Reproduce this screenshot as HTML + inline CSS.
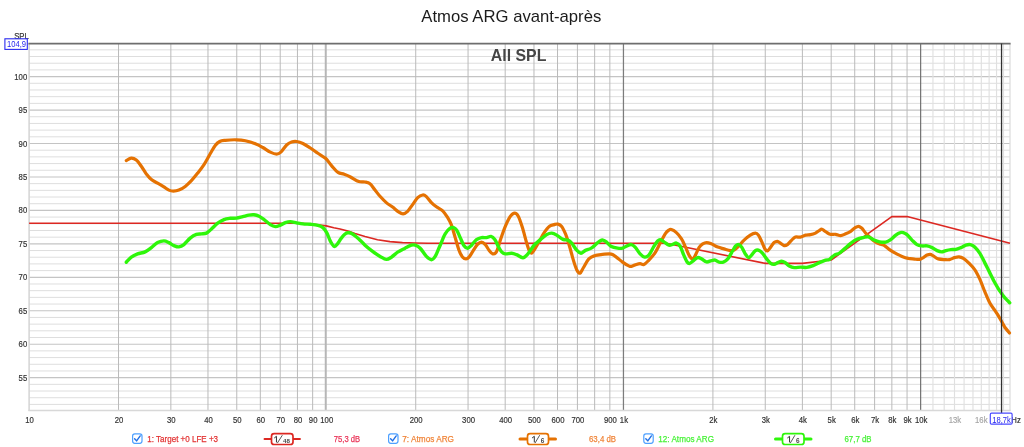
<!DOCTYPE html>
<html><head><meta charset="utf-8"><title>Atmos ARG avant-après</title>
<style>
html,body{margin:0;padding:0;background:#fff;}
body{width:1024px;height:447px;overflow:hidden;font-family:"Liberation Sans",sans-serif;}
svg{display:block;will-change:transform;opacity:0.999;}
svg text{font-family:"Liberation Sans",sans-serif;}
</style></head><body>
<svg width="1024" height="447" viewBox="0 0 1024 447">
<rect width="1024" height="447" fill="#ffffff"/>
<g>
<line x1="29.1" x2="1010" y1="404.41" y2="404.41" stroke="#dedede" stroke-width="1.0"/>
<line x1="29.1" x2="1010" y1="397.72" y2="397.72" stroke="#dedede" stroke-width="1.0"/>
<line x1="29.1" x2="1010" y1="391.03" y2="391.03" stroke="#dedede" stroke-width="1.0"/>
<line x1="29.1" x2="1010" y1="384.34" y2="384.34" stroke="#dedede" stroke-width="1.0"/>
<line x1="29.1" x2="1010" y1="377.65" y2="377.65" stroke="#c4c4c4" stroke-width="1.15"/>
<line x1="29.1" x2="1010" y1="370.96" y2="370.96" stroke="#dedede" stroke-width="1.0"/>
<line x1="29.1" x2="1010" y1="364.27" y2="364.27" stroke="#dedede" stroke-width="1.0"/>
<line x1="29.1" x2="1010" y1="357.58" y2="357.58" stroke="#dedede" stroke-width="1.0"/>
<line x1="29.1" x2="1010" y1="350.89" y2="350.89" stroke="#dedede" stroke-width="1.0"/>
<line x1="29.1" x2="1010" y1="344.20" y2="344.20" stroke="#c4c4c4" stroke-width="1.15"/>
<line x1="29.1" x2="1010" y1="337.51" y2="337.51" stroke="#dedede" stroke-width="1.0"/>
<line x1="29.1" x2="1010" y1="330.82" y2="330.82" stroke="#dedede" stroke-width="1.0"/>
<line x1="29.1" x2="1010" y1="324.13" y2="324.13" stroke="#dedede" stroke-width="1.0"/>
<line x1="29.1" x2="1010" y1="317.44" y2="317.44" stroke="#dedede" stroke-width="1.0"/>
<line x1="29.1" x2="1010" y1="310.75" y2="310.75" stroke="#c4c4c4" stroke-width="1.15"/>
<line x1="29.1" x2="1010" y1="304.06" y2="304.06" stroke="#dedede" stroke-width="1.0"/>
<line x1="29.1" x2="1010" y1="297.37" y2="297.37" stroke="#dedede" stroke-width="1.0"/>
<line x1="29.1" x2="1010" y1="290.68" y2="290.68" stroke="#dedede" stroke-width="1.0"/>
<line x1="29.1" x2="1010" y1="283.99" y2="283.99" stroke="#dedede" stroke-width="1.0"/>
<line x1="29.1" x2="1010" y1="277.30" y2="277.30" stroke="#c4c4c4" stroke-width="1.15"/>
<line x1="29.1" x2="1010" y1="270.61" y2="270.61" stroke="#dedede" stroke-width="1.0"/>
<line x1="29.1" x2="1010" y1="263.92" y2="263.92" stroke="#dedede" stroke-width="1.0"/>
<line x1="29.1" x2="1010" y1="257.23" y2="257.23" stroke="#dedede" stroke-width="1.0"/>
<line x1="29.1" x2="1010" y1="250.54" y2="250.54" stroke="#dedede" stroke-width="1.0"/>
<line x1="29.1" x2="1010" y1="243.85" y2="243.85" stroke="#c4c4c4" stroke-width="1.15"/>
<line x1="29.1" x2="1010" y1="237.16" y2="237.16" stroke="#dedede" stroke-width="1.0"/>
<line x1="29.1" x2="1010" y1="230.47" y2="230.47" stroke="#dedede" stroke-width="1.0"/>
<line x1="29.1" x2="1010" y1="223.78" y2="223.78" stroke="#dedede" stroke-width="1.0"/>
<line x1="29.1" x2="1010" y1="217.09" y2="217.09" stroke="#dedede" stroke-width="1.0"/>
<line x1="29.1" x2="1010" y1="210.40" y2="210.40" stroke="#c4c4c4" stroke-width="1.15"/>
<line x1="29.1" x2="1010" y1="203.71" y2="203.71" stroke="#dedede" stroke-width="1.0"/>
<line x1="29.1" x2="1010" y1="197.02" y2="197.02" stroke="#dedede" stroke-width="1.0"/>
<line x1="29.1" x2="1010" y1="190.33" y2="190.33" stroke="#dedede" stroke-width="1.0"/>
<line x1="29.1" x2="1010" y1="183.64" y2="183.64" stroke="#dedede" stroke-width="1.0"/>
<line x1="29.1" x2="1010" y1="176.95" y2="176.95" stroke="#c4c4c4" stroke-width="1.15"/>
<line x1="29.1" x2="1010" y1="170.26" y2="170.26" stroke="#dedede" stroke-width="1.0"/>
<line x1="29.1" x2="1010" y1="163.57" y2="163.57" stroke="#dedede" stroke-width="1.0"/>
<line x1="29.1" x2="1010" y1="156.88" y2="156.88" stroke="#dedede" stroke-width="1.0"/>
<line x1="29.1" x2="1010" y1="150.19" y2="150.19" stroke="#dedede" stroke-width="1.0"/>
<line x1="29.1" x2="1010" y1="143.50" y2="143.50" stroke="#c4c4c4" stroke-width="1.15"/>
<line x1="29.1" x2="1010" y1="136.81" y2="136.81" stroke="#dedede" stroke-width="1.0"/>
<line x1="29.1" x2="1010" y1="130.12" y2="130.12" stroke="#dedede" stroke-width="1.0"/>
<line x1="29.1" x2="1010" y1="123.43" y2="123.43" stroke="#dedede" stroke-width="1.0"/>
<line x1="29.1" x2="1010" y1="116.74" y2="116.74" stroke="#dedede" stroke-width="1.0"/>
<line x1="29.1" x2="1010" y1="110.05" y2="110.05" stroke="#c4c4c4" stroke-width="1.15"/>
<line x1="29.1" x2="1010" y1="103.36" y2="103.36" stroke="#dedede" stroke-width="1.0"/>
<line x1="29.1" x2="1010" y1="96.67" y2="96.67" stroke="#dedede" stroke-width="1.0"/>
<line x1="29.1" x2="1010" y1="89.98" y2="89.98" stroke="#dedede" stroke-width="1.0"/>
<line x1="29.1" x2="1010" y1="83.29" y2="83.29" stroke="#dedede" stroke-width="1.0"/>
<line x1="29.1" x2="1010" y1="76.60" y2="76.60" stroke="#c4c4c4" stroke-width="1.15"/>
<line x1="29.1" x2="1010" y1="69.91" y2="69.91" stroke="#dedede" stroke-width="1.0"/>
<line x1="29.1" x2="1010" y1="63.22" y2="63.22" stroke="#dedede" stroke-width="1.0"/>
<line x1="29.1" x2="1010" y1="56.53" y2="56.53" stroke="#dedede" stroke-width="1.0"/>
<line x1="29.1" x2="1010" y1="49.84" y2="49.84" stroke="#dedede" stroke-width="1.0"/>
<line x1="118.52" x2="118.52" y1="43.6" y2="410.9" stroke="#bababa" stroke-width="1.0"/>
<line x1="170.85" x2="170.85" y1="43.6" y2="410.9" stroke="#bababa" stroke-width="1.0"/>
<line x1="207.98" x2="207.98" y1="43.6" y2="410.9" stroke="#bababa" stroke-width="1.0"/>
<line x1="236.78" x2="236.78" y1="43.6" y2="410.9" stroke="#bababa" stroke-width="1.0"/>
<line x1="260.32" x2="260.32" y1="43.6" y2="410.9" stroke="#bababa" stroke-width="1.0"/>
<line x1="280.21" x2="280.21" y1="43.6" y2="410.9" stroke="#bababa" stroke-width="1.0"/>
<line x1="297.45" x2="297.45" y1="43.6" y2="410.9" stroke="#bababa" stroke-width="1.0"/>
<line x1="312.65" x2="312.65" y1="43.6" y2="410.9" stroke="#bababa" stroke-width="1.0"/>
<line x1="415.72" x2="415.72" y1="43.6" y2="410.9" stroke="#bababa" stroke-width="1.0"/>
<line x1="468.05" x2="468.05" y1="43.6" y2="410.9" stroke="#bababa" stroke-width="1.0"/>
<line x1="505.18" x2="505.18" y1="43.6" y2="410.9" stroke="#bababa" stroke-width="1.0"/>
<line x1="533.98" x2="533.98" y1="43.6" y2="410.9" stroke="#bababa" stroke-width="1.0"/>
<line x1="557.52" x2="557.52" y1="43.6" y2="410.9" stroke="#bababa" stroke-width="1.0"/>
<line x1="577.41" x2="577.41" y1="43.6" y2="410.9" stroke="#bababa" stroke-width="1.0"/>
<line x1="594.65" x2="594.65" y1="43.6" y2="410.9" stroke="#bababa" stroke-width="1.0"/>
<line x1="609.85" x2="609.85" y1="43.6" y2="410.9" stroke="#bababa" stroke-width="1.0"/>
<line x1="712.92" x2="712.92" y1="43.6" y2="410.9" stroke="#bababa" stroke-width="1.0"/>
<line x1="765.25" x2="765.25" y1="43.6" y2="410.9" stroke="#bababa" stroke-width="1.0"/>
<line x1="802.38" x2="802.38" y1="43.6" y2="410.9" stroke="#bababa" stroke-width="1.0"/>
<line x1="831.18" x2="831.18" y1="43.6" y2="410.9" stroke="#bababa" stroke-width="1.0"/>
<line x1="854.72" x2="854.72" y1="43.6" y2="410.9" stroke="#bababa" stroke-width="1.0"/>
<line x1="874.61" x2="874.61" y1="43.6" y2="410.9" stroke="#bababa" stroke-width="1.0"/>
<line x1="891.85" x2="891.85" y1="43.6" y2="410.9" stroke="#bababa" stroke-width="1.0"/>
<line x1="907.05" x2="907.05" y1="43.6" y2="410.9" stroke="#bababa" stroke-width="1.0"/>
<line x1="932.95" x2="932.95" y1="43.6" y2="410.9" stroke="#e0e0e0" stroke-width="1.15"/>
<line x1="944.18" x2="944.18" y1="43.6" y2="410.9" stroke="#e0e0e0" stroke-width="1.15"/>
<line x1="954.51" x2="954.51" y1="43.6" y2="410.9" stroke="#e0e0e0" stroke-width="1.15"/>
<line x1="964.08" x2="964.08" y1="43.6" y2="410.9" stroke="#e0e0e0" stroke-width="1.15"/>
<line x1="972.98" x2="972.98" y1="43.6" y2="410.9" stroke="#e0e0e0" stroke-width="1.15"/>
<line x1="981.31" x2="981.31" y1="43.6" y2="410.9" stroke="#e0e0e0" stroke-width="1.15"/>
<line x1="989.14" x2="989.14" y1="43.6" y2="410.9" stroke="#e0e0e0" stroke-width="1.15"/>
<line x1="996.52" x2="996.52" y1="43.6" y2="410.9" stroke="#e0e0e0" stroke-width="1.15"/>
<line x1="1003.50" x2="1003.50" y1="43.6" y2="410.9" stroke="#e0e0e0" stroke-width="1.15"/>
<line x1="325.75" x2="325.75" y1="43.6" y2="410.9" stroke="#b6b6b6" stroke-width="2"/>
<line x1="623.45" x2="623.45" y1="43.6" y2="410.9" stroke="#7c7c7c" stroke-width="1.25"/>
<line x1="920.65" x2="920.65" y1="43.6" y2="410.9" stroke="#6c6c6c" stroke-width="1.15"/>
<line x1="29.1" x2="29.1" y1="43.6" y2="410.9" stroke="#d4d4d4" stroke-width="1.5"/>
<line x1="1010" x2="1010" y1="43.6" y2="410.9" stroke="#dedede" stroke-width="1.3"/>
<line x1="28.400000000000002" x2="1010.6" y1="410.5" y2="410.5" stroke="#d8d8d8" stroke-width="1.4"/>
<line x1="28.400000000000002" x2="1010.6" y1="43.6" y2="43.6" stroke="#6e6e6e" stroke-width="1.7"/>
</g>
<g>
<path d="M29.1,223.3 L300.0,223.3 L310.0,223.9 L320.0,225.0 L326.2,225.9 L333.8,227.7 L340.0,229.0 L348.8,231.3 L355.0,233.5 L365.0,236.5 L377.5,239.8 L390.0,241.6 L402.5,242.6 L415.0,243.0 L428.0,243.3 L666.0,243.3 L765.3,263.4 L802.4,263.4 L831.2,260.0 L891.8,216.6 L907.1,216.6 L1010.0,243.3" fill="none" stroke="#dc2822" stroke-width="1.6" stroke-linejoin="round"/>
<path d="M126.3,160.6 C127.1,160.2 129.6,158.2 131.3,158.1 C133.0,158.0 134.6,158.7 136.3,160.1 C138.0,161.5 139.6,164.0 141.3,166.3 C143.0,168.6 144.6,171.7 146.3,173.9 C148.0,176.1 149.5,178.1 151.4,179.6 C153.3,181.1 155.5,181.9 157.6,183.1 C159.7,184.3 162.0,185.7 163.9,186.9 C165.8,188.1 167.3,189.4 168.9,190.1 C170.5,190.8 171.7,191.1 173.4,191.1 C175.1,191.1 176.9,190.9 178.9,190.1 C180.9,189.3 183.1,188.0 185.2,186.4 C187.3,184.8 189.3,182.8 191.4,180.6 C193.5,178.4 195.6,175.8 197.7,173.1 C199.8,170.4 201.9,167.8 204.0,164.6 C206.1,161.4 208.3,157.0 210.2,153.8 C212.1,150.6 213.6,147.6 215.2,145.5 C216.8,143.4 218.0,142.4 219.7,141.5 C221.4,140.6 222.5,140.6 225.3,140.3 C228.1,140.0 233.2,139.7 236.5,139.8 C239.8,139.9 242.2,140.1 245.3,140.8 C248.4,141.5 252.4,142.7 255.3,143.8 C258.2,144.9 260.3,146.1 262.8,147.5 C265.3,148.9 268.0,151.0 270.3,152.1 C272.6,153.2 274.8,154.1 276.6,154.1 C278.4,154.1 279.2,153.6 280.9,152.1 C282.6,150.6 284.8,146.7 286.6,145.0 C288.4,143.3 289.9,142.6 291.6,142.0 C293.3,141.4 294.7,141.2 296.6,141.5 C298.5,141.8 300.6,142.4 302.9,143.5 C305.2,144.6 307.9,146.4 310.4,148.0 C312.9,149.6 315.4,151.6 317.9,153.3 C320.4,155.0 323.2,156.2 325.5,158.3 C327.8,160.4 329.6,163.5 331.7,165.8 C333.8,168.2 335.9,171.0 338.0,172.4 C340.1,173.8 342.1,173.5 344.2,174.3 C346.3,175.1 348.1,175.8 350.5,177.0 C352.9,178.2 356.4,180.7 358.8,181.5 C361.2,182.3 363.1,181.6 365.0,182.0 C366.9,182.4 368.3,182.5 370.0,183.8 C371.7,185.1 373.3,187.9 375.0,190.0 C376.7,192.1 378.1,194.2 380.0,196.3 C381.9,198.4 384.2,200.8 386.3,202.6 C388.4,204.4 390.5,205.5 392.6,207.1 C394.7,208.7 397.1,211.0 398.9,212.1 C400.6,213.2 401.7,213.9 403.1,213.8 C404.6,213.7 406.0,212.8 407.6,211.3 C409.2,209.8 410.9,206.9 412.6,204.6 C414.3,202.3 416.0,199.2 417.7,197.6 C419.4,196.0 421.2,195.2 422.7,195.0 C424.1,194.8 424.9,195.3 426.4,196.6 C427.8,197.9 429.7,200.9 431.4,202.6 C433.1,204.3 434.5,205.4 436.4,206.8 C438.3,208.2 440.8,209.0 442.7,210.8 C444.6,212.6 446.2,215.2 447.7,217.6 C449.2,220.0 450.2,221.8 451.5,225.1 C452.8,228.4 453.9,233.4 455.2,237.6 C456.4,241.8 457.8,246.9 459.0,250.2 C460.2,253.5 461.5,255.8 462.7,257.2 C463.9,258.6 464.9,258.9 466.0,258.9 C467.1,258.9 467.9,258.4 469.0,257.2 C470.1,255.9 471.4,253.5 472.8,251.4 C474.2,249.3 475.9,246.2 477.3,244.7 C478.8,243.2 480.2,242.2 481.5,242.2 C482.8,242.2 484.1,243.4 485.3,244.7 C486.6,246.0 487.8,248.7 489.0,250.2 C490.2,251.7 491.5,253.7 492.8,253.9 C494.1,254.1 495.4,253.7 496.6,251.4 C497.9,249.1 498.9,244.4 500.3,240.2 C501.8,236.0 503.6,230.4 505.3,226.4 C507.0,222.4 508.8,218.6 510.3,216.4 C511.9,214.2 513.2,213.1 514.6,213.1 C516.0,213.1 517.1,214.0 518.4,216.4 C519.7,218.8 521.0,223.2 522.4,227.6 C523.8,232.0 525.4,238.7 526.6,242.7 C527.8,246.7 528.8,249.7 529.6,251.4 C530.4,253.2 530.9,253.4 531.6,253.2 C532.4,253.0 532.8,252.2 534.1,250.2 C535.4,248.2 537.5,244.3 539.2,241.4 C540.9,238.5 542.5,235.1 544.2,232.6 C545.9,230.1 547.5,227.7 549.2,226.4 C550.9,225.1 552.8,225.0 554.2,224.6 C555.7,224.2 556.6,223.8 557.9,224.1 C559.1,224.4 560.4,224.8 561.7,226.4 C563.0,228.0 564.2,230.8 565.5,233.9 C566.8,237.0 568.0,241.0 569.2,245.2 C570.5,249.4 571.8,254.8 573.0,258.9 C574.2,263.0 575.5,267.3 576.7,269.7 C577.9,272.1 578.9,273.6 580.0,273.2 C581.1,272.8 582.0,269.9 583.5,267.5 C585.0,265.1 586.9,260.9 588.8,258.9 C590.7,256.9 592.7,256.3 595.0,255.6 C597.3,254.8 599.8,254.7 602.5,254.4 C605.2,254.2 609.0,253.6 611.3,254.1 C613.6,254.6 614.4,255.8 616.3,257.1 C618.2,258.4 620.5,260.6 622.6,262.1 C624.7,263.6 627.3,265.2 628.8,265.9 C630.3,266.6 630.1,266.6 631.4,266.4 C632.7,266.1 634.9,264.9 636.4,264.4 C637.9,263.9 638.9,263.6 640.1,263.6 C641.4,263.6 642.4,265.2 643.9,264.6 C645.4,264.0 647.0,262.1 648.9,260.1 C650.8,258.1 653.3,255.4 655.2,252.6 C657.1,249.8 658.5,246.2 660.2,243.1 C661.9,240.0 663.8,236.0 665.2,233.8 C666.7,231.6 667.9,230.8 668.9,230.1 C669.9,229.4 670.1,229.2 671.4,229.6 C672.6,230.0 674.7,231.1 676.4,232.6 C678.1,234.1 680.0,236.5 681.5,238.8 C683.0,241.1 684.0,243.7 685.2,246.4 C686.5,249.1 687.8,253.0 689.0,255.1 C690.2,257.2 691.2,258.8 692.2,258.9 C693.2,259.0 694.1,257.5 695.2,255.6 C696.3,253.7 697.8,249.5 699.0,247.6 C700.2,245.7 701.5,244.7 702.7,243.9 C704.0,243.1 705.0,242.6 706.5,242.6 C708.0,242.6 709.6,243.2 711.5,243.9 C713.4,244.7 715.7,246.3 717.8,247.1 C719.9,247.9 721.9,248.3 724.0,248.9 C726.1,249.5 728.6,250.4 730.3,250.6 C732.0,250.8 732.6,250.9 734.1,250.1 C735.6,249.3 737.4,247.3 739.1,245.6 C740.8,243.9 742.2,241.8 744.1,240.1 C746.0,238.3 748.4,236.3 750.3,235.1 C752.2,233.9 754.0,233.1 755.4,233.1 C756.8,233.1 757.4,233.7 758.4,235.1 C759.4,236.5 760.5,239.1 761.6,241.4 C762.7,243.7 763.9,247.3 764.9,248.9 C765.9,250.5 766.5,251.1 767.4,250.9 C768.3,250.7 769.3,249.0 770.4,247.6 C771.5,246.2 772.9,243.6 774.1,242.6 C775.3,241.6 776.4,241.3 777.4,241.4 C778.4,241.5 779.3,242.4 780.4,243.1 C781.5,243.8 783.0,245.3 784.2,245.6 C785.4,245.8 786.1,245.5 787.4,244.6 C788.6,243.7 790.4,241.3 791.7,240.1 C793.0,238.8 794.0,237.6 795.4,237.1 C796.8,236.6 798.7,237.4 800.4,237.1 C802.1,236.8 803.8,235.5 805.5,235.1 C807.2,234.7 808.8,234.9 810.5,234.6 C812.2,234.3 814.0,233.8 815.5,233.1 C817.0,232.4 818.1,231.2 819.2,230.6 C820.3,229.9 820.9,229.0 822.0,229.2 C823.1,229.4 824.2,230.8 825.6,231.6 C827.0,232.4 828.4,233.9 830.1,234.3 C831.8,234.8 833.9,234.1 835.6,234.3 C837.4,234.5 838.9,235.7 840.6,235.6 C842.3,235.5 844.0,234.5 845.7,233.8 C847.4,233.1 849.1,232.3 850.7,231.3 C852.3,230.3 853.9,228.4 855.2,227.6 C856.5,226.8 857.6,226.2 858.7,226.3 C859.8,226.4 860.7,227.2 861.9,228.3 C863.1,229.4 864.2,231.5 865.7,233.1 C867.2,234.7 869.0,236.6 870.7,238.1 C872.4,239.6 874.0,241.1 875.7,242.1 C877.4,243.1 879.2,243.7 880.7,244.3 C882.2,244.9 883.0,244.7 884.5,245.6 C886.0,246.5 887.6,248.3 889.5,249.6 C891.4,250.9 893.7,252.3 895.8,253.4 C897.9,254.5 899.9,255.6 902.0,256.4 C904.1,257.2 906.2,257.9 908.3,258.4 C910.4,258.8 912.6,258.9 914.5,259.1 C916.4,259.3 918.1,259.6 919.6,259.4 C921.1,259.1 922.0,258.3 923.3,257.6 C924.5,256.9 925.9,255.6 927.1,255.1 C928.3,254.6 929.3,254.3 930.3,254.4 C931.3,254.5 932.0,255.2 933.3,255.9 C934.6,256.6 936.4,258.3 938.3,258.9 C940.2,259.5 942.7,259.5 944.6,259.6 C946.5,259.7 947.9,259.9 949.6,259.6 C951.3,259.3 953.1,258.1 954.6,257.6 C956.1,257.2 957.4,256.8 958.9,256.9 C960.4,257.0 961.8,257.4 963.4,258.4 C965.0,259.3 966.5,260.7 968.4,262.6 C970.3,264.5 972.8,266.9 974.7,269.6 C976.6,272.3 978.0,275.3 979.7,278.9 C981.4,282.5 983.0,287.4 984.7,291.4 C986.4,295.4 988.0,299.5 989.7,302.7 C991.4,305.9 993.6,308.5 995.0,310.6 C996.4,312.7 996.9,313.4 998.0,315.2 C999.1,317.0 1000.3,319.2 1001.5,321.3 C1002.7,323.4 1003.7,325.6 1005.0,327.5 C1006.3,329.4 1008.8,332.1 1009.5,333.0" fill="none" stroke="#e57202" stroke-width="3.2" stroke-linecap="round" stroke-linejoin="round"/>
<path d="M126.3,262.2 C127.1,261.4 129.4,258.6 131.3,257.2 C133.2,255.8 135.3,254.8 137.6,253.9 C139.9,253.0 142.8,253.0 145.1,251.9 C147.4,250.8 149.3,249.2 151.4,247.6 C153.5,246.0 155.5,243.7 157.6,242.6 C159.7,241.5 162.0,240.9 163.9,240.9 C165.8,240.9 167.2,241.8 168.9,242.6 C170.6,243.4 172.2,244.9 173.9,245.6 C175.6,246.3 177.2,247.1 178.9,246.9 C180.6,246.7 182.0,246.1 183.9,244.6 C185.8,243.1 188.1,239.8 190.2,238.1 C192.3,236.4 194.5,235.1 196.4,234.4 C198.3,233.7 199.8,234.1 201.5,233.9 C203.2,233.7 204.8,233.9 206.5,233.1 C208.2,232.3 209.6,230.6 211.5,228.9 C213.4,227.2 215.6,224.7 217.7,223.1 C219.8,221.5 221.9,220.4 224.0,219.6 C226.1,218.8 228.2,218.6 230.3,218.3 C232.4,218.1 234.4,218.4 236.5,218.1 C238.6,217.8 240.7,217.1 242.8,216.6 C244.9,216.1 247.1,215.4 249.0,215.1 C250.9,214.8 252.4,214.6 254.1,214.8 C255.8,215.0 257.4,215.5 259.1,216.3 C260.8,217.1 262.2,218.2 264.1,219.6 C266.0,221.0 268.4,223.4 270.3,224.6 C272.2,225.8 273.7,226.5 275.4,226.6 C277.1,226.7 278.7,225.8 280.4,225.1 C282.1,224.4 283.7,223.2 285.4,222.6 C287.1,222.0 288.5,221.6 290.4,221.6 C292.3,221.6 294.5,222.4 296.6,222.8 C298.7,223.2 300.6,223.7 302.9,223.9 C305.2,224.2 307.9,224.1 310.4,224.3 C312.9,224.6 315.8,224.9 317.9,225.4 C320.0,225.9 321.4,226.4 322.9,227.6 C324.4,228.8 325.4,230.3 326.7,232.6 C328.0,234.9 329.2,239.1 330.5,241.4 C331.8,243.7 333.0,246.0 334.2,246.4 C335.4,246.8 336.4,245.2 337.5,243.9 C338.6,242.6 339.8,240.2 341.0,238.6 C342.2,237.0 343.3,235.5 344.5,234.5 C345.7,233.5 346.7,232.9 348.0,232.8 C349.3,232.7 350.7,232.9 352.5,233.9 C354.3,234.9 356.7,237.0 358.8,238.9 C360.9,240.8 362.7,243.1 365.0,245.2 C367.3,247.3 370.1,249.5 372.6,251.4 C375.1,253.3 377.8,255.1 380.1,256.4 C382.4,257.7 384.4,259.3 386.3,259.4 C388.2,259.5 389.5,258.4 391.4,257.2 C393.3,256.0 395.3,253.7 397.6,252.2 C399.9,250.7 402.8,249.4 405.1,248.2 C407.4,247.0 409.7,245.7 411.4,245.2 C413.1,244.7 413.7,244.7 415.2,245.2 C416.7,245.7 418.3,246.3 420.2,248.2 C422.1,250.1 424.5,254.5 426.4,256.4 C428.3,258.3 429.9,259.7 431.4,259.7 C432.9,259.7 433.7,258.8 435.2,256.4 C436.7,254.0 438.5,248.9 440.2,245.2 C441.9,241.4 443.5,236.7 445.2,233.9 C446.9,231.1 448.8,229.2 450.2,228.2 C451.6,227.1 452.6,227.3 453.7,227.6 C454.8,227.9 455.6,228.5 456.7,230.2 C457.8,231.9 459.0,235.0 460.2,237.6 C461.4,240.2 462.7,243.9 464.0,245.7 C465.3,247.5 466.6,248.3 467.8,248.2 C469.1,248.1 470.1,246.6 471.5,245.2 C472.9,243.8 474.8,240.9 476.5,239.6 C478.2,238.3 479.8,237.9 481.5,237.6 C483.2,237.3 484.9,237.8 486.5,237.6 C488.1,237.4 489.6,236.1 491.0,236.4 C492.4,236.7 493.6,237.9 494.8,239.6 C496.0,241.3 497.2,244.3 498.3,246.4 C499.4,248.5 500.4,250.7 501.6,251.9 C502.8,253.2 503.6,253.7 505.3,253.9 C507.0,254.1 509.7,253.1 511.6,253.2 C513.5,253.3 514.7,253.9 516.6,254.7 C518.5,255.4 521.0,257.8 522.9,257.7 C524.8,257.6 526.0,256.0 527.9,253.9 C529.8,251.8 532.0,247.6 534.1,245.2 C536.2,242.8 538.3,241.4 540.4,239.6 C542.5,237.8 544.8,235.7 546.7,234.6 C548.6,233.5 550.0,233.0 551.7,233.1 C553.4,233.2 554.8,234.0 556.7,235.1 C558.6,236.2 561.1,238.6 563.0,239.4 C564.9,240.2 566.5,239.6 568.0,240.2 C569.5,240.8 570.2,241.5 571.7,243.2 C573.2,244.9 575.2,248.5 576.7,250.2 C578.2,251.9 579.6,253.1 581.0,253.2 C582.4,253.3 583.3,251.4 585.0,250.6 C586.7,249.8 589.4,249.2 591.3,248.1 C593.2,247.0 594.8,245.1 596.3,243.9 C597.8,242.7 598.9,241.5 600.0,240.9 C601.1,240.3 602.0,239.9 603.0,240.1 C604.0,240.3 604.9,240.8 606.3,241.9 C607.7,243.0 609.4,245.4 611.3,246.4 C613.2,247.4 615.7,247.8 617.6,248.1 C619.5,248.4 620.9,248.5 622.6,248.1 C624.3,247.7 626.1,246.2 627.6,245.6 C629.1,245.0 630.1,244.3 631.4,244.6 C632.6,244.8 633.6,245.5 635.1,247.1 C636.6,248.7 638.5,252.2 640.1,253.9 C641.7,255.6 643.1,256.9 644.6,257.1 C646.1,257.3 647.4,256.9 648.9,255.1 C650.4,253.3 652.4,248.8 653.9,246.4 C655.4,244.0 656.7,242.0 657.7,240.9 C658.8,239.8 659.2,239.4 660.2,239.6 C661.2,239.8 662.5,241.0 663.9,241.9 C665.3,242.8 667.4,244.7 668.9,245.1 C670.4,245.5 671.5,244.7 672.7,244.4 C674.0,244.1 675.1,242.8 676.4,243.1 C677.6,243.4 678.9,244.3 680.2,246.4 C681.5,248.5 682.8,253.0 684.0,255.6 C685.2,258.2 686.2,260.8 687.2,262.1 C688.2,263.4 688.7,263.6 689.7,263.4 C690.7,263.2 691.9,261.9 693.2,260.9 C694.5,259.9 696.3,257.9 697.7,257.6 C699.1,257.3 700.0,258.2 701.5,258.9 C703.0,259.6 704.8,261.6 706.5,261.9 C708.2,262.2 710.0,260.9 711.5,260.6 C713.0,260.3 714.0,259.9 715.3,260.1 C716.5,260.4 717.7,261.8 719.0,262.1 C720.3,262.4 721.8,262.6 723.3,262.1 C724.8,261.6 726.4,260.5 727.8,258.9 C729.2,257.3 730.4,254.7 731.6,252.6 C732.9,250.5 734.2,247.8 735.3,246.4 C736.4,245.0 737.2,244.3 738.3,244.4 C739.3,244.5 740.4,245.5 741.6,247.1 C742.8,248.7 744.1,252.2 745.3,253.9 C746.5,255.7 747.5,257.4 748.6,257.6 C749.7,257.8 750.5,256.3 751.6,255.1 C752.7,253.9 754.3,251.4 755.4,250.6 C756.5,249.8 757.2,249.7 758.4,250.1 C759.6,250.5 761.0,251.6 762.4,253.1 C763.8,254.6 765.3,257.2 766.6,258.9 C767.9,260.6 769.1,262.2 770.4,263.1 C771.6,264.0 772.9,264.5 774.1,264.4 C775.4,264.3 776.6,263.1 777.9,262.6 C779.2,262.1 780.5,261.2 781.7,261.2 C783.0,261.2 784.1,262.0 785.4,262.8 C786.7,263.6 787.8,265.2 789.3,266.0 C790.8,266.8 792.4,267.4 794.3,267.6 C796.2,267.8 798.5,267.1 800.6,267.1 C802.7,267.1 804.7,267.6 806.8,267.4 C808.9,267.2 811.0,266.5 813.1,265.7 C815.2,264.9 817.3,263.5 819.4,262.6 C821.5,261.7 823.9,260.6 825.6,260.1 C827.3,259.6 827.9,260.2 829.4,259.4 C830.9,258.6 832.7,256.1 834.4,255.1 C836.1,254.1 837.7,254.1 839.4,253.1 C841.1,252.1 842.5,250.5 844.4,248.9 C846.3,247.3 848.6,244.9 850.7,243.3 C852.8,241.7 854.8,240.2 856.9,239.3 C859.0,238.4 861.3,238.0 863.2,237.6 C865.1,237.2 866.5,236.5 868.2,236.8 C869.9,237.1 871.3,238.8 873.2,239.6 C875.1,240.4 877.4,241.4 879.5,241.8 C881.6,242.2 883.8,242.5 885.7,242.1 C887.6,241.7 889.0,240.8 890.7,239.6 C892.4,238.4 894.2,236.3 895.8,235.1 C897.4,233.9 899.0,233.0 900.3,232.6 C901.5,232.2 902.2,232.3 903.3,232.6 C904.4,232.9 905.5,233.3 907.0,234.6 C908.5,235.8 910.3,238.4 912.0,240.1 C913.7,241.8 915.3,243.6 917.0,244.6 C918.7,245.6 920.4,245.7 922.1,245.9 C923.8,246.1 925.4,245.6 927.1,245.9 C928.8,246.2 930.4,246.8 932.1,247.6 C933.8,248.4 935.5,249.9 937.1,250.6 C938.7,251.3 940.1,251.9 941.6,251.9 C943.1,251.9 944.4,251.0 945.9,250.6 C947.4,250.2 949.2,249.8 950.9,249.6 C952.6,249.4 954.2,249.7 955.9,249.4 C957.6,249.1 959.2,248.3 960.9,247.6 C962.6,246.9 964.3,245.6 965.9,245.1 C967.5,244.6 968.9,244.3 970.4,244.6 C971.9,244.9 973.2,245.5 974.7,246.9 C976.2,248.3 978.0,250.5 979.7,253.1 C981.4,255.7 983.0,259.4 984.7,262.6 C986.4,265.9 988.0,269.3 989.7,272.6 C991.4,275.9 993.0,279.5 994.7,282.5 C996.4,285.5 998.0,288.3 999.7,290.8 C1001.4,293.3 1003.0,295.7 1004.7,297.7 C1006.4,299.7 1008.9,301.9 1009.7,302.8" fill="none" stroke="#2ef60a" stroke-width="3.4" stroke-linecap="round" stroke-linejoin="round"/>
<line x1="1001.5413254626475" x2="1001.5413254626475" y1="43.6" y2="412.9" stroke="#303030" stroke-width="1.3"/>
</g>
<g opacity="0.999">
<text x="421.30" y="21.80" font-size="17" fill="#1c1c1c" font-weight="normal" textLength="180.00" lengthAdjust="spacingAndGlyphs">Atmos ARG avant-après</text>
<text x="490.85" y="60.80" font-size="16.5" fill="#454545" font-weight="bold" textLength="55.50" lengthAdjust="spacingAndGlyphs">All SPL</text>
<text x="18.60" y="380.65" font-size="9.2" fill="#333" stroke="#333" stroke-width="0.2" font-weight="normal" textLength="8.60" lengthAdjust="spacingAndGlyphs">55</text>
<text x="18.60" y="347.20" font-size="9.2" fill="#333" stroke="#333" stroke-width="0.2" font-weight="normal" textLength="8.60" lengthAdjust="spacingAndGlyphs">60</text>
<text x="18.60" y="313.75" font-size="9.2" fill="#333" stroke="#333" stroke-width="0.2" font-weight="normal" textLength="8.60" lengthAdjust="spacingAndGlyphs">65</text>
<text x="18.60" y="280.30" font-size="9.2" fill="#333" stroke="#333" stroke-width="0.2" font-weight="normal" textLength="8.60" lengthAdjust="spacingAndGlyphs">70</text>
<text x="18.60" y="246.85" font-size="9.2" fill="#333" stroke="#333" stroke-width="0.2" font-weight="normal" textLength="8.60" lengthAdjust="spacingAndGlyphs">75</text>
<text x="18.60" y="213.40" font-size="9.2" fill="#333" stroke="#333" stroke-width="0.2" font-weight="normal" textLength="8.60" lengthAdjust="spacingAndGlyphs">80</text>
<text x="18.60" y="179.95" font-size="9.2" fill="#333" stroke="#333" stroke-width="0.2" font-weight="normal" textLength="8.60" lengthAdjust="spacingAndGlyphs">85</text>
<text x="18.60" y="146.50" font-size="9.2" fill="#333" stroke="#333" stroke-width="0.2" font-weight="normal" textLength="8.60" lengthAdjust="spacingAndGlyphs">90</text>
<text x="18.60" y="113.05" font-size="9.2" fill="#333" stroke="#333" stroke-width="0.2" font-weight="normal" textLength="8.60" lengthAdjust="spacingAndGlyphs">95</text>
<text x="14.31" y="79.60" font-size="9.2" fill="#333" stroke="#333" stroke-width="0.2" font-weight="normal" textLength="12.89" lengthAdjust="spacingAndGlyphs">100</text>
<text x="14.20" y="38.60" font-size="9.2" fill="#333" stroke="#333" stroke-width="0.2" font-weight="normal" textLength="14.61" lengthAdjust="spacingAndGlyphs">SPL</text>
<text x="25.25" y="422.60" font-size="9.2" fill="#333" stroke="#333" stroke-width="0.2" font-weight="normal" textLength="8.60" lengthAdjust="spacingAndGlyphs">10</text>
<text x="114.72" y="422.60" font-size="9.2" fill="#333" stroke="#333" stroke-width="0.2" font-weight="normal" textLength="8.60" lengthAdjust="spacingAndGlyphs">20</text>
<text x="167.05" y="422.60" font-size="9.2" fill="#333" stroke="#333" stroke-width="0.2" font-weight="normal" textLength="8.60" lengthAdjust="spacingAndGlyphs">30</text>
<text x="204.18" y="422.60" font-size="9.2" fill="#333" stroke="#333" stroke-width="0.2" font-weight="normal" textLength="8.60" lengthAdjust="spacingAndGlyphs">40</text>
<text x="232.99" y="422.60" font-size="9.2" fill="#333" stroke="#333" stroke-width="0.2" font-weight="normal" textLength="8.60" lengthAdjust="spacingAndGlyphs">50</text>
<text x="256.52" y="422.60" font-size="9.2" fill="#333" stroke="#333" stroke-width="0.2" font-weight="normal" textLength="8.60" lengthAdjust="spacingAndGlyphs">60</text>
<text x="276.42" y="422.60" font-size="9.2" fill="#333" stroke="#333" stroke-width="0.2" font-weight="normal" textLength="8.60" lengthAdjust="spacingAndGlyphs">70</text>
<text x="293.65" y="422.60" font-size="9.2" fill="#333" stroke="#333" stroke-width="0.2" font-weight="normal" textLength="8.60" lengthAdjust="spacingAndGlyphs">80</text>
<text x="308.85" y="422.60" font-size="9.2" fill="#333" stroke="#333" stroke-width="0.2" font-weight="normal" textLength="8.60" lengthAdjust="spacingAndGlyphs">90</text>
<text x="320.30" y="422.60" font-size="9.2" fill="#333" stroke="#333" stroke-width="0.2" font-weight="normal" textLength="12.89" lengthAdjust="spacingAndGlyphs">100</text>
<text x="409.77" y="422.60" font-size="9.2" fill="#333" stroke="#333" stroke-width="0.2" font-weight="normal" textLength="12.89" lengthAdjust="spacingAndGlyphs">200</text>
<text x="462.10" y="422.60" font-size="9.2" fill="#333" stroke="#333" stroke-width="0.2" font-weight="normal" textLength="12.89" lengthAdjust="spacingAndGlyphs">300</text>
<text x="499.24" y="422.60" font-size="9.2" fill="#333" stroke="#333" stroke-width="0.2" font-weight="normal" textLength="12.89" lengthAdjust="spacingAndGlyphs">400</text>
<text x="528.04" y="422.60" font-size="9.2" fill="#333" stroke="#333" stroke-width="0.2" font-weight="normal" textLength="12.89" lengthAdjust="spacingAndGlyphs">500</text>
<text x="551.57" y="422.60" font-size="9.2" fill="#333" stroke="#333" stroke-width="0.2" font-weight="normal" textLength="12.89" lengthAdjust="spacingAndGlyphs">600</text>
<text x="571.47" y="422.60" font-size="9.2" fill="#333" stroke="#333" stroke-width="0.2" font-weight="normal" textLength="12.89" lengthAdjust="spacingAndGlyphs">700</text>
<text x="603.90" y="422.60" font-size="9.2" fill="#333" stroke="#333" stroke-width="0.2" font-weight="normal" textLength="12.89" lengthAdjust="spacingAndGlyphs">900</text>
<text x="619.87" y="422.60" font-size="9.2" fill="#333" stroke="#333" stroke-width="0.2" font-weight="normal" textLength="8.16" lengthAdjust="spacingAndGlyphs">1k</text>
<text x="709.34" y="422.60" font-size="9.2" fill="#333" stroke="#333" stroke-width="0.2" font-weight="normal" textLength="8.16" lengthAdjust="spacingAndGlyphs">2k</text>
<text x="761.67" y="422.60" font-size="9.2" fill="#333" stroke="#333" stroke-width="0.2" font-weight="normal" textLength="8.16" lengthAdjust="spacingAndGlyphs">3k</text>
<text x="798.80" y="422.60" font-size="9.2" fill="#333" stroke="#333" stroke-width="0.2" font-weight="normal" textLength="8.16" lengthAdjust="spacingAndGlyphs">4k</text>
<text x="827.60" y="422.60" font-size="9.2" fill="#333" stroke="#333" stroke-width="0.2" font-weight="normal" textLength="8.16" lengthAdjust="spacingAndGlyphs">5k</text>
<text x="851.14" y="422.60" font-size="9.2" fill="#333" stroke="#333" stroke-width="0.2" font-weight="normal" textLength="8.16" lengthAdjust="spacingAndGlyphs">6k</text>
<text x="871.03" y="422.60" font-size="9.2" fill="#333" stroke="#333" stroke-width="0.2" font-weight="normal" textLength="8.16" lengthAdjust="spacingAndGlyphs">7k</text>
<text x="888.27" y="422.60" font-size="9.2" fill="#333" stroke="#333" stroke-width="0.2" font-weight="normal" textLength="8.16" lengthAdjust="spacingAndGlyphs">8k</text>
<text x="903.47" y="422.60" font-size="9.2" fill="#333" stroke="#333" stroke-width="0.2" font-weight="normal" textLength="8.16" lengthAdjust="spacingAndGlyphs">9k</text>
<text x="914.92" y="422.60" font-size="9.2" fill="#333" stroke="#333" stroke-width="0.2" font-weight="normal" textLength="12.46" lengthAdjust="spacingAndGlyphs">10k</text>
<text x="948.78" y="422.60" font-size="9.2" fill="#a6a6a6" stroke="#a6a6a6" stroke-width="0.2" font-weight="normal" textLength="12.46" lengthAdjust="spacingAndGlyphs">13k</text>
<text x="975.08" y="422.60" font-size="9.2" fill="#a6a6a6" stroke="#a6a6a6" stroke-width="0.2" font-weight="normal" textLength="12.46" lengthAdjust="spacingAndGlyphs">16k</text>
<text x="1011.30" y="422.60" font-size="9.2" fill="#333" stroke="#333" stroke-width="0.2" font-weight="normal" textLength="9.45" lengthAdjust="spacingAndGlyphs">Hz</text>
</g>
<g opacity="0.999">
<rect x="4.9" y="38.8" width="22.4" height="10.6" fill="#fff" stroke="#2a2af0" stroke-width="1.1"/>
<text x="7" y="47.4" font-size="9.2" fill="#2424ee" textLength="19" lengthAdjust="spacingAndGlyphs">104,9</text>
<rect x="990.3" y="413.2" width="21.8" height="11" rx="1.2" fill="#fff" stroke="#4a4aff" stroke-width="1.2"/>
<text x="992.3" y="422.6" font-size="9.2" fill="#2424ee" textLength="18.6" lengthAdjust="spacingAndGlyphs">18,7k</text>
</g>
<g opacity="0.999">
<rect x="132.6" y="433.90000000000003" width="9.4" height="9.4" rx="2.2" fill="#fff" stroke="#4da0ff" stroke-width="1.2"/><path d="M134.6,438.7 L136.6,440.90000000000003 L140.2,435.90000000000003" fill="none" stroke="#1f6fe6" stroke-width="1.4" stroke-linecap="round" stroke-linejoin="round"/>
<text x="147.3" y="442.1" font-size="9.5" fill="#e23232" stroke="#e23232" stroke-width="0.25" textLength="70.8" lengthAdjust="spacingAndGlyphs">1: Target +0 LFE +3</text>
<line x1="264.5" x2="300" y1="439" y2="439" stroke="#dc2822" stroke-width="1.9" stroke-linecap="round"/><rect x="271.5" y="433.6" width="21.5" height="10.9" rx="2.6" fill="#fff" stroke="#dc2822" stroke-width="1.7"/><path d="M274.25,438.0 L276.45,436.3 L276.45,442.4" fill="none" stroke="#333" stroke-width="1.0" stroke-linejoin="miter"/><line x1="277.35" y1="443.1" x2="282.35" y2="435.2" stroke="#3a3a3a" stroke-width="0.85"/><text x="282.95" y="442.9" font-size="5.8" font-weight="bold" fill="#484848" textLength="6.9" lengthAdjust="spacingAndGlyphs">48</text>
<text x="333.8" y="442.1" font-size="9.5" fill="#ea3458" stroke="#ea3458" stroke-width="0.25" textLength="26.3" lengthAdjust="spacingAndGlyphs">75,3 dB</text>
<rect x="388.6" y="433.90000000000003" width="9.4" height="9.4" rx="2.2" fill="#fff" stroke="#4da0ff" stroke-width="1.2"/><path d="M390.6,438.7 L392.6,440.90000000000003 L396.2,435.90000000000003" fill="none" stroke="#1f6fe6" stroke-width="1.4" stroke-linecap="round" stroke-linejoin="round"/>
<text x="402.3" y="442.1" font-size="9.5" fill="#f0853a" stroke="#f0853a" stroke-width="0.25" textLength="51.7" lengthAdjust="spacingAndGlyphs">7: Atmos ARG</text>
<line x1="520" x2="555.5" y1="439" y2="439" stroke="#e57202" stroke-width="3" stroke-linecap="round"/><rect x="527.5" y="433.6" width="21.0" height="10.9" rx="2.6" fill="#fff" stroke="#e57202" stroke-width="1.7"/><path d="M532.10,438.0 L534.30,436.3 L534.30,442.4" fill="none" stroke="#333" stroke-width="1.0" stroke-linejoin="miter"/><line x1="535.00" y1="443.1" x2="539.70" y2="435.2" stroke="#3a3a3a" stroke-width="0.85"/><text x="540.80" y="443.1" font-size="7.6" font-weight="bold" fill="#484848" textLength="3.6" lengthAdjust="spacingAndGlyphs">6</text>
<text x="589" y="442.1" font-size="9.5" fill="#f0853a" stroke="#f0853a" stroke-width="0.25" textLength="27" lengthAdjust="spacingAndGlyphs">63,4 dB</text>
<rect x="643.8000000000001" y="433.90000000000003" width="9.4" height="9.4" rx="2.2" fill="#fff" stroke="#4da0ff" stroke-width="1.2"/><path d="M645.8000000000001,438.7 L647.8000000000001,440.90000000000003 L651.4000000000001,435.90000000000003" fill="none" stroke="#1f6fe6" stroke-width="1.4" stroke-linecap="round" stroke-linejoin="round"/>
<text x="658.3" y="442.1" font-size="9.5" fill="#48f238" stroke="#48f238" stroke-width="0.25" textLength="55.7" lengthAdjust="spacingAndGlyphs">12: Atmos ARG</text>
<line x1="775.5" x2="811" y1="439" y2="439" stroke="#2ef60a" stroke-width="3" stroke-linecap="round"/><rect x="782.5" y="433.6" width="21.5" height="10.9" rx="2.6" fill="#fff" stroke="#2ef60a" stroke-width="1.7"/><path d="M787.35,438.0 L789.55,436.3 L789.55,442.4" fill="none" stroke="#333" stroke-width="1.0" stroke-linejoin="miter"/><line x1="790.25" y1="443.1" x2="794.95" y2="435.2" stroke="#3a3a3a" stroke-width="0.85"/><text x="796.05" y="443.1" font-size="7.6" font-weight="bold" fill="#484848" textLength="3.6" lengthAdjust="spacingAndGlyphs">6</text>
<text x="844.5" y="442.1" font-size="9.5" fill="#48f238" stroke="#48f238" stroke-width="0.25" textLength="27" lengthAdjust="spacingAndGlyphs">67,7 dB</text>
</g>
</svg>
</body></html>
